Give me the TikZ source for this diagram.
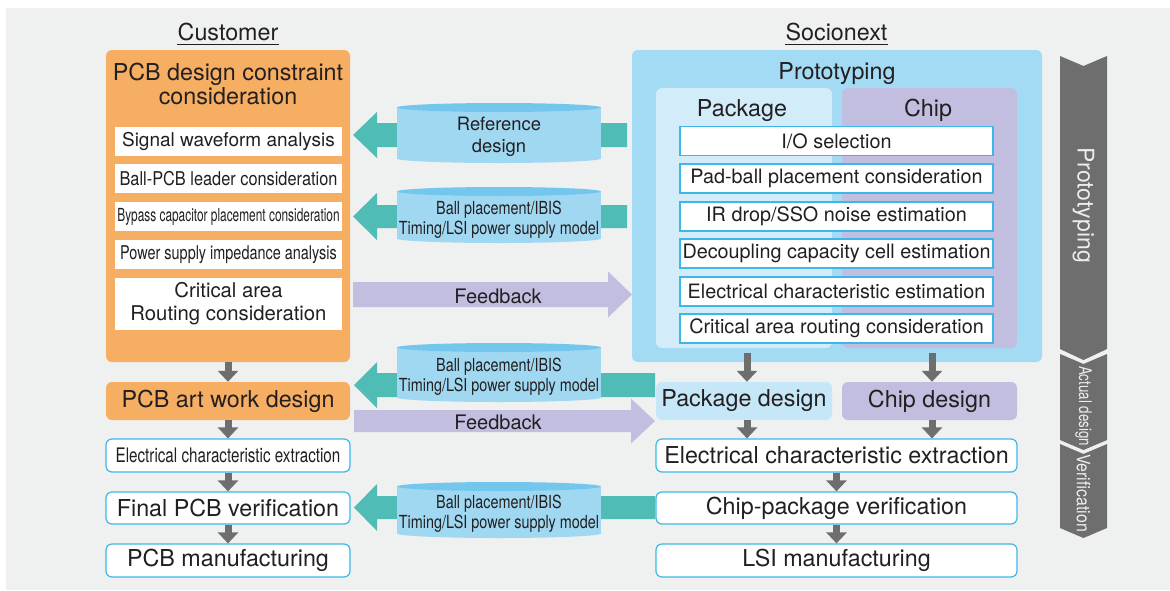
\documentclass[tikz,border=0pt]{standalone}
\usepackage{fontspec}
\setmainfont{TeX Gyre Heros}
\newfontfamily\cnA[FakeStretch=0.86]{TeX Gyre Heros}
\newfontfamily\cnB[FakeStretch=0.76]{TeX Gyre Heros}
\newfontfamily\cnC[FakeStretch=0.66]{TeX Gyre Heros}
\newfontfamily\cnD[FakeStretch=0.80]{TeX Gyre Heros}
\usetikzlibrary{arrows.meta,calc}
\definecolor{bgc}{HTML}{EFF0F0}
\definecolor{orng}{HTML}{F5AE62}
\definecolor{sblue}{HTML}{A3DAF4}
\definecolor{pkgl}{HTML}{D3ECF9}
\definecolor{lav}{HTML}{C1BEDF}
\definecolor{tealc}{HTML}{4FBDB5}
\definecolor{cylb}{HTML}{A0D8F2}
\definecolor{cylt}{HTML}{74C7EC}
\definecolor{grayc}{HTML}{6E6E6E}
\definecolor{bordc}{HTML}{3DB7E8}
\definecolor{pkgd}{HTML}{C6E7F8}
\definecolor{txtc}{HTML}{231F20}
\definecolor{bandt}{HTML}{EDEDED}
\newcommand{\fatL}[6]{\fill[#1] let \p1=(#2), \p2=(#3) in (\x1,\y1+#4) -- (\x2+#6,\y1+#4) -- (\x2+#6,\y1+#5) -- (\x2,\y1) -- (\x2+#6,\y1-#5) -- (\x2+#6,\y1-#4) -- (\x1,\y1-#4) -- cycle;}
\newcommand{\fatR}[6]{\fill[#1] let \p1=(#2), \p2=(#3) in (\x1,\y1+#4) -- (\x2-#6,\y1+#4) -- (\x2-#6,\y1+#5) -- (\x2,\y1) -- (\x2-#6,\y1-#5) -- (\x2-#6,\y1-#4) -- (\x1,\y1-#4) -- cycle;}
\newcommand{\cylshape}[2]{%
  \fill[cylb] (397,#1+4.5) rectangle (601,#2-4.5);
  \fill[cylb] (499,#2-4.5) ellipse [x radius=102, y radius=4.5];
  \fill[cylt] (499,#1+4.5) ellipse [x radius=102, y radius=4.5];}
\tikzset{
  big/.style={font=\fontsize{23.3pt}{26pt}\selectfont},
  item/.style={font=\fontsize{19.8pt}{23pt}\selectfont},
  wbox/.style={fill=white, draw=bordc, line width=1.2pt, rounded corners=6pt},
  ibox/.style={fill=white, draw=bordc, line width=1.2pt, minimum width=313pt, minimum height=29pt, item},
  lbox/.style={fill=white, minimum width=227pt, minimum height=29pt},
  garrow/.style={draw=grayc, line width=7pt, -{Triangle[width=20pt,length=11pt]}},
  bandtxt/.style={text=bandt, rotate=-90},
}
\begin{document}
\begin{tikzpicture}[x=1pt,y=-1pt, every node/.style={inner sep=0pt, text=txtc, align=center}]
\useasboundingbox (0,0) rectangle (1170,590);
\fill[bgc] (6,8) rectangle (1170,590);

% headers
\node[big] (cust) at (228,32) {Customer};
\draw[line width=1.3pt, txtc] ([yshift=-4pt]cust.base west) -- ([yshift=-4pt]cust.base east);
\node[big] (soc) at (836.5,32) {Socionext};
\draw[line width=1.3pt, txtc] ([yshift=-4pt]soc.base west) -- ([yshift=-4pt]soc.base east);

% customer big box
\node[fill=orng, rounded corners=6pt, minimum width=244pt, minimum height=312pt] (cons) at (228,206) {};
\node[font=\fontsize{23.3pt}{24pt}\selectfont] (constitle) at (228,84) {PCB design constraint\\consideration};
\node[lbox, font=\fontsize{19pt}{22pt}\selectfont] (sig) at (228.5,141) {Signal waveform analysis};
\node[lbox, font=\fontsize{19pt}{22pt}\selectfont\cnA] (ballpcb) at (228.5,178.5) {Ball-PCB leader consideration};
\node[lbox, font=\fontsize{18pt}{20pt}\selectfont\cnC] (bypass) at (228.5,216.5) {Bypass capacitor placement consideration};
\node[lbox, font=\fontsize{19pt}{22pt}\selectfont\cnB] (power) at (228.5,254.5) {Power supply impedance analysis};
\node[lbox, minimum height=52pt, font=\fontsize{20.3pt}{23pt}\selectfont] (crit) at (228.5,304) {Critical area\\Routing consideration};

% socionext big box
\node[fill=sblue, rounded corners=6pt, minimum width=410pt, minimum height=312pt] (proto) at (837,206) {};
\node[big] (prototitle) at (837,74) {Prototyping};
\node[fill=pkgl, rounded corners=6pt, minimum width=176pt, minimum height=260pt] (pkgin) at (744,218) {};
\node[fill=lav, rounded corners=6pt, minimum width=175pt, minimum height=260pt] (chipin) at (929.5,218) {};
\node[big] (pkglabel) at (742,111) {Package};
\node[big] (chiplabel) at (928,110) {Chip};
\node[ibox] (io) at (836.5,141) {I/O selection};
\node[ibox] (pad) at (836.5,178.5) {Pad-ball placement consideration};
\node[ibox] (ir) at (836.5,216.5) {IR drop/SSO noise estimation};
\node[ibox] (dec) at (836.5,253.5) {Decoupling capacity cell estimation};
\node[ibox] (eest) at (836.5,291.5) {Electrical characteristic estimation};
\node[ibox] (carc) at (836.5,328.5) {Critical area routing consideration};

% fat arrows and cylinders
\coordinate (t1) at (627,135); \coordinate (h1) at (353,135);
\coordinate (t2) at (627,216.5); \coordinate (h2) at (353,216.5);
\coordinate (t3) at (655,385); \coordinate (h3) at (354,385);
\coordinate (t4) at (655,507.5); \coordinate (h4) at (354,507.5);
\coordinate (f1t) at (353,294.5); \coordinate (f1h) at (632,294.5);
\coordinate (f2t) at (354,421); \coordinate (f2h) at (655,421);
\fatL{tealc}{t1}{h1}{12pt}{23pt}{24pt}
\fatL{tealc}{t2}{h2}{11.5pt}{23.5pt}{24pt}
\fatL{tealc}{t3}{h3}{12pt}{23pt}{23pt}
\fatL{tealc}{t4}{h4}{11.5pt}{23.5pt}{23pt}
\fatR{lav}{f1t}{f1h}{12.5pt}{23pt}{24pt}
\fatR{lav}{f2t}{f2h}{11pt}{22.5pt}{24pt}
\node[font=\fontsize{20pt}{22pt}\selectfont] (fb1) at (498,296) {Feedback};
\node[font=\fontsize{20pt}{22pt}\selectfont] (fb2) at (498,422.5) {Feedback};

\cylshape{103}{163}
\cylshape{187}{243}
\cylshape{343}{402}
\cylshape{482}{538}
\node[font=\fontsize{18.4pt}{22pt}\selectfont] (cyl1) at (499,137) {Reference\\design};
\node[font=\fontsize{18pt}{20pt}\selectfont\cnD] (cyl2) at (499,219.5) {Ball placement/IBIS\\Timing/LSI power supply model};
\node[font=\fontsize{18pt}{20pt}\selectfont\cnD] (cyl3) at (499,376.5) {Ball placement/IBIS\\Timing/LSI power supply model};
\node[font=\fontsize{18pt}{20pt}\selectfont\cnD] (cyl4) at (499,513.5) {Ball placement/IBIS\\Timing/LSI power supply model};

% lower left flow
\node[fill=orng, rounded corners=6pt, minimum width=244pt, minimum height=38pt, big] (art) at (228,401) {PCB art work design};
\node[wbox, minimum width=244pt, minimum height=33pt, font=\fontsize{20pt}{22pt}\selectfont\cnB] (lelec) at (228,455.5) {Electrical characteristic extraction};
\node[wbox, minimum width=244pt, minimum height=32pt, big] (final) at (228,508) {Final PCB verification};
\node[wbox, minimum width=244pt, minimum height=33pt, big] (pcbm) at (228,560.5) {PCB manufacturing};
\draw[garrow] (cons.south) -- (art.north);
\draw[garrow] (art.south) -- (lelec.north);
\draw[garrow] (lelec.south) -- (final.north);
\draw[garrow] (final.south) -- (pcbm.north);

% lower right flow
\node[fill=pkgd, rounded corners=6pt, minimum width=176pt, minimum height=38pt, big] (pkgdes) at (744,401) {Package design};
\node[fill=lav, rounded corners=6pt, minimum width=175pt, minimum height=38pt, big] (chipdes) at (929.5,401) {Chip design};
\node[wbox, minimum width=361pt, minimum height=33pt, big] (relec) at (836.5,455.5) {Electrical characteristic extraction};
\node[wbox, minimum width=361pt, minimum height=32pt, big] (cpv) at (836.5,508) {Chip-package verification};
\node[wbox, minimum width=361pt, minimum height=33pt, big] (lsi) at (836.5,560.5) {LSI manufacturing};
\coordinate (pa) at (747,353); \coordinate (ca) at (932,353);
\draw[garrow] (pa) -- (pa |- pkgdes.north);
\draw[garrow] (ca) -- (ca |- chipdes.north);
\draw[garrow] (pa |- pkgdes.south) -- (pa |- relec.north);
\draw[garrow] (ca |- chipdes.south) -- (ca |- relec.north);
\draw[garrow] (relec.south) -- (cpv.north);
\draw[garrow] (cpv.south) -- (lsi.north);

% stage bands
\fill[grayc] (1060,56) -- (1083.5,66) -- (1107,56) -- (1107,349) -- (1083.5,360) -- (1060,349) -- cycle;
\fill[grayc] (1060,354) -- (1083.5,364) -- (1107,354) -- (1107,440) -- (1083.5,450) -- (1060,440) -- cycle;
\fill[grayc] (1060,444) -- (1083.5,454) -- (1107,444) -- (1107,528) -- (1083.5,538) -- (1060,528) -- cycle;
\node[bandtxt, font=\fontsize{23pt}{26pt}\selectfont] (bp) at (1083.5,205) {Prototyping};
\node[bandtxt, font=\fontsize{17.5pt}{20pt}\selectfont\cnB] (ba) at (1083.5,406) {Actual design};
\node[bandtxt, font=\fontsize{18.5pt}{21pt}\selectfont\cnA] (bv) at (1083.5,493) {Verification};
\end{tikzpicture}
\end{document}
